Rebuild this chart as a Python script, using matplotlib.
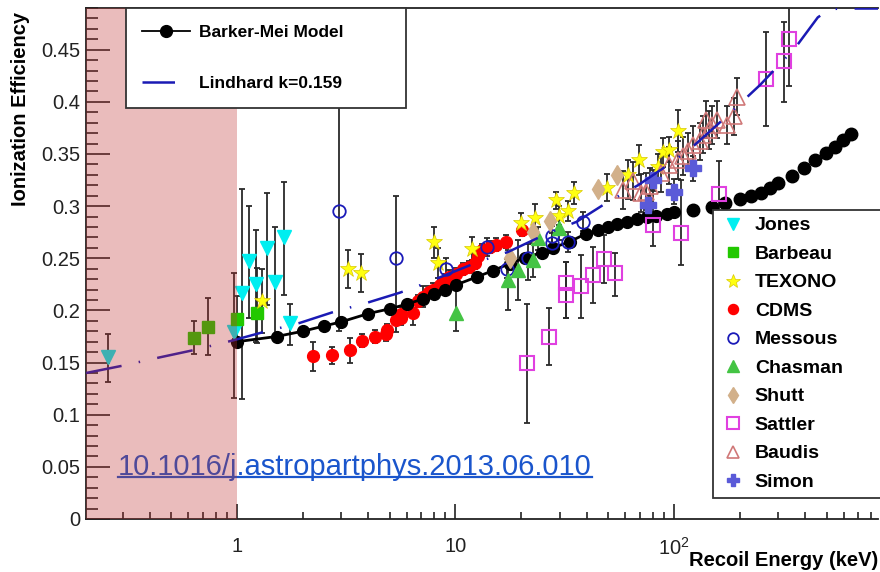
import numpy as np
import matplotlib
matplotlib.use("Agg")
import matplotlib.pyplot as plt
from matplotlib.lines import Line2D
from matplotlib.ticker import FixedLocator, FixedFormatter, LogLocator, MultipleLocator, NullFormatter, FuncFormatter

plt.rcParams['font.family'] = ['Liberation Sans', 'DejaVu Sans']
plt.rcParams['mathtext.fontset'] = 'custom'
plt.rcParams['mathtext.rm'] = 'Liberation Sans'

# Barker-Mei model (dense part joined by a line, then single points)
bm_x = [1.0, 1.52, 2.0, 2.5, 3.0, 4.0, 5.0, 6.0, 7.1, 8.0, 9.0, 10.1, 12.5, 14.8, 17.8, 20.8,
        24.9, 28.0, 33.4, 39.6, 45, 50, 55, 61, 68, 75, 83, 93, 100]
bm_y = [0.170, 0.175, 0.180, 0.185, 0.189, 0.197, 0.2015, 0.206, 0.211, 0.216, 0.2198, 0.2246,
        0.232, 0.238, 0.245, 0.2505, 0.2555, 0.260, 0.266, 0.2735, 0.277, 0.280, 0.283, 0.285,
        0.288, 0.290, 0.291, 0.2927, 0.294]
bm2_x = [123, 150, 172, 200, 225, 250, 275, 300, 347, 393, 444, 497, 545, 593, 646]
bm2_y = [0.2965, 0.2995, 0.303, 0.307, 0.310, 0.313, 0.3175, 0.322, 0.329, 0.337, 0.344,
         0.351, 0.357, 0.363, 0.369]

# Lindhard k=0.159
lk_x = [0.204, 0.30, 0.444, 0.636, 0.95, 1.31, 1.94, 2.72, 3.97, 5.57, 6.8, 12.9, 17.4, 26.2,
        35.9, 49.9, 68.5, 98, 122, 168, 215, 249, 360, 456, 518, 600, 860]
lk_y = [0.140, 0.147, 0.155, 0.162, 0.171, 0.179, 0.188, 0.198, 0.2075, 0.217, 0.2236, 0.247,
        0.256, 0.2735, 0.285, 0.304, 0.320, 0.342, 0.357, 0.383, 0.404, 0.4165, 0.452, 0.481,
        0.489, 0.4895, 0.4895]

jones_x = [0.257, 0.97, 1.06, 1.14, 1.23, 1.37, 1.49, 1.64, 1.76]
jones_y = [0.155, 0.179, 0.217, 0.247, 0.225, 0.260, 0.227, 0.270, 0.188]
jones_lo = [0.131, 0.116, 0.115, 0.193, 0.170, 0.205, 0.172, 0.215, 0.167]
jones_hi = [0.177, 0.236, 0.316, 0.300, 0.277, 0.313, 0.280, 0.323, 0.206]

barbeau_x = [0.638, 0.739, 1.0, 1.24]
barbeau_y = [0.174, 0.184, 0.192, 0.198]
barbeau_lo = [0.158, 0.157, 0.170, 0.169]
barbeau_hi = [0.190, 0.212, 0.214, 0.241]

texono_x = [1.31, 3.23, 3.72, 8.0, 8.3, 11.96, 19.96, 23.1, 29.0, 29.8, 32.7, 34.9, 49.7,
            61.7, 69.6, 84.9, 89.4, 95.4, 104]
texono_y = [0.209, 0.240, 0.236, 0.2655, 0.2455, 0.259, 0.284, 0.289, 0.3055, 0.291, 0.2955,
            0.3125, 0.317, 0.330, 0.344, 0.3375, 0.3515, 0.354, 0.372]
texono_lo = [0.178, 0.2215, 0.218, 0.250, 0.231, 0.248, 0.275, 0.276, 0.297, 0.282, 0.286,
             0.302, 0.3045, 0.307, 0.330, 0.325, 0.338, 0.342, 0.352]
texono_hi = [0.240, 0.2575, 0.254, 0.280, 0.260, 0.270, 0.293, 0.302, 0.314, 0.300, 0.305,
             0.323, 0.331, 0.3445, 0.359, 0.350, 0.365, 0.366, 0.392]

cdms_x = [2.23, 2.74, 3.31, 3.75, 4.31, 4.81, 4.85, 5.35, 5.66, 5.66, 6.41, 6.74, 7.1, 7.55,
          7.9, 8.5, 8.95, 9.4, 10.1, 10.8, 11.6, 12.3, 12.7, 13.2, 14.4, 15.4, 17.1, 20.1]
cdms_y = [0.156, 0.157, 0.162, 0.171, 0.175, 0.177, 0.181, 0.191, 0.1925, 0.197, 0.198, 0.209,
          0.213, 0.2175, 0.220, 0.2245, 0.2285, 0.2325, 0.235, 0.2395, 0.2415, 0.2455, 0.252,
          0.258, 0.261, 0.263, 0.266, 0.277]
cdms_err = [0.014, 0.008, 0.012, 0.006, 0.006, 0.006, 0.006, 0.012, 0.006, 0.006, 0.012, 0.006,
            0.010, 0.006, 0.006, 0.006, 0.006, 0.006, 0.006, 0.006, 0.006, 0.006, 0.006, 0.006,
            0.006, 0.006, 0.006, 0.006]

messous_x = [2.94, 5.34, 9.05, 13.9, 17.2, 21.6, 27.6, 27.6, 32.8, 38.3]
messous_y = [0.295, 0.250, 0.240, 0.2605, 0.240, 0.250, 0.2715, 0.2645, 0.2655, 0.285]
messous_lo = [0.180, 0.189, 0.229, 0.252, 0.231, 0.229, 0.262, 0.255, 0.256, 0.276]
messous_hi = [0.410, 0.310, 0.250, 0.269, 0.249, 0.2635, 0.281, 0.274, 0.275, 0.294]

chasman_x = [10.06, 17.4, 19.3, 22.6, 24.0, 29.7]
chasman_y = [0.198, 0.229, 0.239, 0.2485, 0.269, 0.279]
chasman_lo = [0.180, 0.2005, 0.210, 0.232, 0.258, 0.268]
chasman_hi = [0.220, 0.2575, 0.268, 0.265, 0.280, 0.290]

shutt_x = [17.7, 22.6, 27.1, 45.0, 54.8]
shutt_y = [0.250, 0.2755, 0.2855, 0.316, 0.330]

sattler_x = [21.3, 26.8, 32.0, 32.0, 37.7, 42.7, 47.9, 53.9, 80.2, 107.3, 160.6, 265, 318, 336]
sattler_y = [0.1495, 0.175, 0.226, 0.215, 0.223, 0.234, 0.2495, 0.236, 0.2815, 0.274, 0.312,
             0.422, 0.439, 0.4605]
sattler_lo = [0.092, 0.148, 0.193, 0.193, 0.193, 0.207, 0.226, 0.214, 0.2615, 0.244, 0.280,
              0.377, 0.400, 0.4155]
sattler_hi = [0.206, 0.202, 0.246, 0.246, 0.2535, 0.261, 0.2725, 0.2555, 0.3155, 0.325, 0.343,
              0.467, 0.477, 0.510]

baudis_x = [58.5, 64.7, 71, 74.8, 77.4, 87, 95.5, 104, 110, 116, 122, 132, 136, 141, 145, 150,
            158, 176, 189, 194]
baudis_y = [0.3157, 0.324, 0.3126, 0.314, 0.319, 0.332, 0.339, 0.3445, 0.348, 0.3525, 0.359,
            0.362, 0.3685, 0.383, 0.373, 0.378, 0.383, 0.378, 0.386, 0.405]
baudis_err = 0.018

simon_x = [76.5, 80.5, 100.4, 123]
simon_y = [0.301, 0.325, 0.314, 0.3365]
simon_err = [0.010, 0.010, 0.012, 0.012]

fig = plt.figure(figsize=(8.8, 5.72), dpi=100)
ax = fig.add_axes([86 / 880, 53 / 572, 792 / 880, 511 / 572])
ax.set_xscale('log')
ax.set_xlim(0.204, 860)
ax.set_ylim(0, 0.49)

ecol = '#2a2a2a'
ekw = dict(fmt='none', ecolor=ecol, elinewidth=1.3, capsize=2.5, capthick=1.3, zorder=3)


def with_bars(x, y, lo, hi):
    y = np.array(y)
    ax.errorbar(x, y, yerr=[y - np.array(lo), np.array(hi) - y], **ekw)


with_bars(jones_x, jones_y, jones_lo, jones_hi)
with_bars(barbeau_x, barbeau_y, barbeau_lo, barbeau_hi)
with_bars(texono_x, texono_y, texono_lo, texono_hi)
ax.errorbar(cdms_x, cdms_y, yerr=cdms_err, **ekw)
with_bars(messous_x, messous_y, messous_lo, messous_hi)
with_bars(chasman_x, chasman_y, chasman_lo, chasman_hi)
with_bars(sattler_x, sattler_y, sattler_lo, sattler_hi)
ax.errorbar(baudis_x, baudis_y, yerr=baudis_err, **ekw)
ax.errorbar(simon_x, simon_y, yerr=simon_err, **ekw)

styles = {
    'Jones': dict(marker='v', ms=10, color='#00eef0', mec='#00eef0'),
    'Barbeau': dict(marker='s', ms=8.5, color='#22c800', mec='#22c800'),
    'TEXONO': dict(marker='*', ms=12, color='#ffff10', mec='#d8c800', mew=0.5),
    'CDMS': dict(marker='o', ms=8.5, color='#ff0000', mec='#ff0000'),
    'Messous': dict(marker='o', ms=9, mfc='none', mec='#1a1ab8', mew=1.3, color='#1a1ab8'),
    'Chasman': dict(marker='^', ms=10, color='#44c444', mec='#44c444'),
    'Shutt': dict(marker='d', ms=10, color='#d2b08a', mec='#d2b08a'),
    'Sattler': dict(marker='s', ms=9.5, mfc='none', mec='#e040e0', mew=1.5, color='#e040e0'),
    'Baudis': dict(marker='^', ms=11, mfc='none', mec='#d07878', mew=1.2, color='#d07878'),
    'Simon': dict(marker='P', ms=11, color='#5a5ad8', mec='#5a5ad8'),
}
series = {
    'Jones': (jones_x, jones_y), 'Barbeau': (barbeau_x, barbeau_y),
    'TEXONO': (texono_x, texono_y), 'CDMS': (cdms_x, cdms_y),
    'Messous': (messous_x, messous_y), 'Chasman': (chasman_x, chasman_y),
    'Shutt': (shutt_x, shutt_y), 'Sattler': (sattler_x, sattler_y),
    'Baudis': (baudis_x, baudis_y), 'Simon': (simon_x, simon_y),
}
for name, (x, y) in series.items():
    z = 4 if name == 'CDMS' else 5
    ax.plot(x, y, ls='none', zorder=z, **styles[name])

# Barker-Mei model
ax.plot(bm_x, bm_y, color='black', lw=2, marker='o', ms=8.5, zorder=4.5)
ax.plot(bm2_x, bm2_y, ls='none', color='black', marker='o', ms=9, zorder=4.5)

# Lindhard
lk_style = dict(color='#1a1ab4', lw=1.8, ls=(0, (14.5, 7, 0.6, 7)))
ax.plot(lk_x, lk_y, zorder=6, **lk_style)

# shaded region below 1 keV, drawn over everything in the frame
ax.axvspan(0.1, 1.0, color='#c03030', alpha=0.32, lw=0, zorder=8)
ax.set_xlim(0.204, 860)

# axes styling
for s in ['left', 'bottom', 'top']:
    ax.spines[s].set_color('#222222')
    ax.spines[s].set_linewidth(1.3)
ax.spines['right'].set_visible(False)

ax.xaxis.set_major_locator(FixedLocator([1, 10, 100]))
ax.xaxis.set_major_formatter(FixedFormatter(['1', '10', r'$\mathregular{10^{2}}$']))
ax.xaxis.set_minor_locator(LogLocator(base=10, subs=np.arange(2, 10)))
ax.xaxis.set_minor_formatter(NullFormatter())
ax.yaxis.set_major_locator(MultipleLocator(0.05))
ax.yaxis.set_minor_locator(MultipleLocator(0.01))
ax.yaxis.set_major_formatter(FuncFormatter(lambda v, p: '{:g}'.format(round(v, 2))))

ax.tick_params(axis='both', which='both', direction='in', colors='#222222', width=1.2,
               labelsize=14.5, top=False, right=False)
ax.tick_params(axis='x', which='major', length=11, pad=13)
ax.tick_params(axis='x', which='minor', length=5)
ax.tick_params(axis='y', which='major', length=17, pad=4)
ax.tick_params(axis='y', which='minor', length=8.5)

fig.text(20 / 880, 1 - 12 / 572, 'Ionization Efficiency', rotation=90, ha='center', va='top',
         fontsize=14.5, fontweight='bold')
fig.text(878 / 880, 1 - 560 / 572, 'Recoil Energy (keV)', ha='right', va='center',
         fontsize=14.5, fontweight='bold')

# legends
h1 = [Line2D([], [], color='black', lw=1.3, marker='o', ms=8.5),
      Line2D([], [], color='#1a1ab4', lw=1.8, ls=(0, (13, 20)))]
leg1 = ax.legend(h1, ['Barker-Mei Model', 'Lindhard k=0.159'], loc='upper left',
                 bbox_to_anchor=(40 / 792, 1.0, 280 / 792, 0.0), mode='expand',
                 prop=dict(weight='bold', size=12.5), handlelength=2.76, handletextpad=0.5,
                 borderpad=0.95, labelspacing=2.1, borderaxespad=0, fancybox=False,
                 framealpha=1, edgecolor='#333333')
leg1.get_frame().set_linewidth(1.3)
leg1.set_zorder(10)
ax.add_artist(leg1)

h2 = [Line2D([], [], ls='none', **styles[n]) for n in series]
leg2 = ax.legend(h2, list(series.keys()), loc='upper left',
                 bbox_to_anchor=((713 - 86) / 792, (519 - 210) / 511, 0.3, 0.0), mode='expand',
                 prop=dict(weight='bold', size=14), handlelength=1.4, handletextpad=0.4,
                 borderpad=0.35, labelspacing=0.56, borderaxespad=0, fancybox=False,
                 framealpha=1, edgecolor='#333333', markerscale=0.85)
leg2.get_frame().set_linewidth(1.3)
leg2.set_zorder(10)

# DOI link, underlined, sitting under the shaded overlay
link = ax.text(118 / 880, 1 - 475 / 572, '10.1016/j.astropartphys.2013.06.010',
               transform=fig.transFigure, ha='left', va='baseline', fontsize=21,
               color='#1a55cc', zorder=7)
fig.canvas.draw()
bb = link.get_window_extent()
uy = 1 - 477 / 572
ax.plot([bb.x0 / 880, bb.x1 / 880], [uy, uy], transform=fig.transFigure, color='#1a55cc',
        lw=1.6, zorder=7, clip_on=False)

fig.savefig('out.png', dpi=100)
